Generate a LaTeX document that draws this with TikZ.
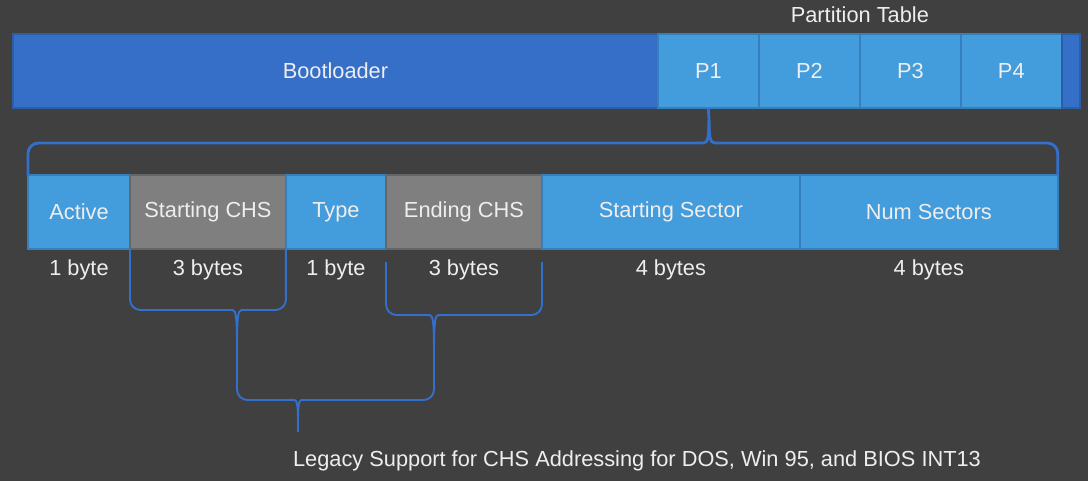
\documentclass[tikz,border=0pt]{standalone}
\usepackage{fontspec}
\setmainfont{Liberation Sans}
\usetikzlibrary{positioning}
\definecolor{bgdark}{HTML}{404040}
\definecolor{mbrblue}{HTML}{356FC8}
\definecolor{mbredge}{HTML}{2C5EA8}
\definecolor{ptblue}{HTML}{439CDB}
\definecolor{ptedge}{HTML}{3580BC}
\definecolor{chsgray}{HTML}{7F7F7F}
\definecolor{chsedge}{HTML}{666666}
\definecolor{bracecol}{HTML}{3370CC}
\definecolor{txtwhite}{HTML}{EEEEEE}
\newcommand{\cellfont}{\fontsize{12.4}{14}\selectfont}
\tikzset{
	cell/.style={draw, line width=1pt, minimum height=1.48cm, inner sep=0pt, outer sep=0pt, text=txtwhite, font=\cellfont},
	bootcell/.style={cell, fill=mbrblue, draw=mbredge},
	bluecell/.style={cell, fill=ptblue, draw=ptedge},
	graycell/.style={cell, fill=chsgray, draw=chsedge},
	lbl/.style={text=txtwhite, font=\cellfont, inner sep=1pt},
	brc/.style={draw=bracecol, line width=1.1pt},
	bigbrc/.style={brc, line width=1.6pt}
}

\begin{document}
\begin{tikzpicture}[x=0.02cm, y=-0.02cm]
		\fill[bgdark] (0,0) rectangle (1088,481);
		\useasboundingbox (0,0) rectangle (1088,481);
		% MBR strip
		\node[bootcell, minimum width=12.9cm, anchor=north west] (boot) at (13,34) {Bootloader};
		\node[bluecell, minimum width=2.02cm, right=0pt of boot] (p1) {P1};
		\node[bluecell, minimum width=2.02cm, right=0pt of p1] (p2) {P2};
		\node[bluecell, minimum width=2.02cm, right=0pt of p2] (p3) {P3};
		\node[bluecell, minimum width=2.02cm, right=0pt of p3] (p4) {P4};
		\node[bootcell, minimum width=0.36cm, right=0pt of p4] (tail) {};
		\node[lbl, above=5pt of p3.north west] (ptab) {Partition Table};
		% partition entry
		\node[bluecell, minimum width=2.04cm, anchor=north west] (act) at (28,175) {Active};
		\node[graycell, minimum width=3.12cm, right=0pt of act] (stchs) {Starting CHS};
		\node[bluecell, minimum width=2.0cm, right=0pt of stchs] (type) {Type};
		\node[graycell, minimum width=3.12cm, right=0pt of type] (endchs) {Ending CHS};
		\node[bluecell, minimum width=5.16cm, right=0pt of endchs] (stsec) {Starting Sector};
		\node[bluecell, minimum width=5.16cm, right=0pt of stsec] (numsec) {Num Sectors};
		\node[lbl, below=5pt of act] (bact) {1 byte};
		\node[lbl, below=5pt of stchs] (bstchs) {3 bytes};
		\node[lbl, below=5pt of type] (btype) {1 byte};
		\node[lbl, below=5pt of endchs] (bendchs) {3 bytes};
		\node[lbl, below=5pt of stsec] (bstsec) {4 bytes};
		\node[lbl, below=5pt of numsec] (bnumsec) {4 bytes};
		% braces
		\coordinate (s1) at (237,345);
		\coordinate (s2) at (434,350);
		\coordinate (tipb) at (298,432);
		\draw[bigbrc] (act.north west) [rounded corners=6] |- (693,143) [sharp corners] .. controls (708,143) and (709,136) .. (709,120) -- (p1.south);
		\draw[bigbrc] (numsec.north east) [rounded corners=6] |- (725,143) [sharp corners] .. controls (710,143) and (709,136) .. (709,120);
		\draw[brc] (stchs.south west) [rounded corners=6] |- (222,310) [sharp corners] .. controls (236,310) and (237,318) .. (s1);
		\draw[brc] (stchs.south east) [rounded corners=6] |- (252,310) [sharp corners] .. controls (238,310) and (237,318) .. (s1);
		\draw[brc] (386,262) [rounded corners=6] |- (419,315) [sharp corners] .. controls (433,315) and (434,323) .. (s2);
		\draw[brc] (542,262) [rounded corners=6] |- (449,315) [sharp corners] .. controls (435,315) and (434,323) .. (s2);
		\draw[brc] (s1) [rounded corners=6] |- (284,400) [sharp corners] .. controls (297,400) and (298,406) .. (298,420) -- (tipb);
		\draw[brc] (s2) [rounded corners=6] |- (312,400) [sharp corners] .. controls (299,400) and (298,406) .. (298,420);
		\node[lbl, anchor=west] (legacy) at (291,461) {Legacy Support for CHS Addressing for DOS, Win 95, and BIOS INT13};
	\end{tikzpicture}
\end{document}
